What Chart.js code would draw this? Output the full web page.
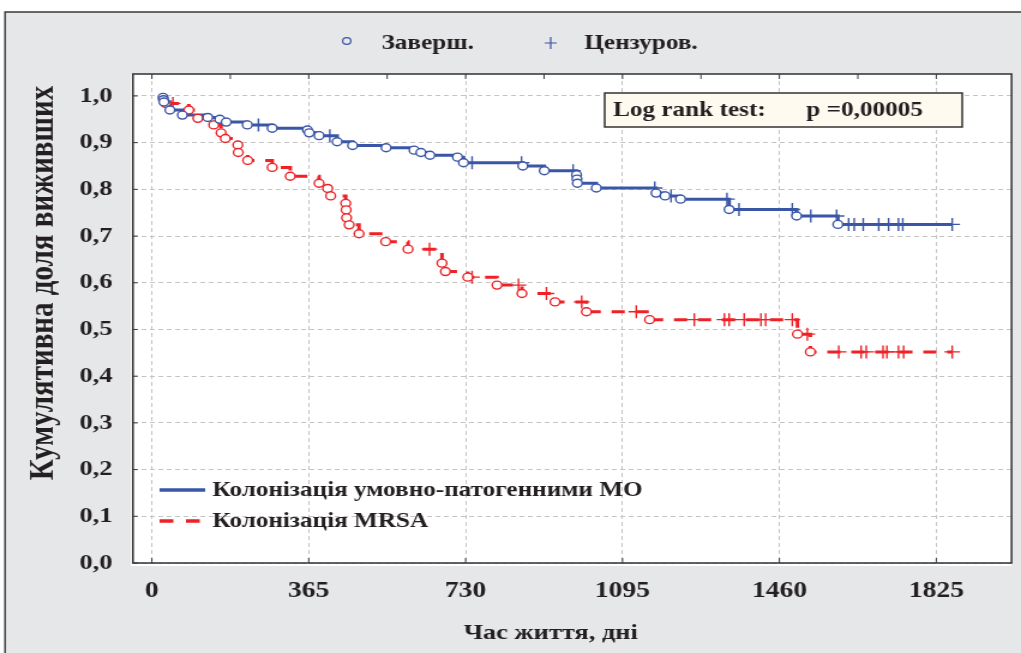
<!DOCTYPE html>
<html lang="uk">
<head>
<meta charset="UTF-8">
<title>Кумулятивна доля виживших</title>
<script src="https://cdn.jsdelivr.net/npm/chart.js@4.4.1/dist/chart.umd.min.js"></script>
<style>
  html, body { margin: 0; padding: 0; background: #fff; overflow: hidden; }
  #km { display: block; }
</style>
</head>
<body>
<!-- the original figure is stretched sideways, so the canvas is drawn narrow and widened by an inline style -->
<canvas id="km" width="851" height="653" style="width:1021px;height:653px"></canvas>
<script>
// Колонізація умовно-патогенними МО (blue)
const bluEventDays = [26, 27, 28, 42, 71, 130, 158, 173, 222, 280, 362, 366, 389, 431, 467, 545, 610, 626, 647, 711, 725, 863, 913, 988, 989, 990, 1034, 1173, 1194, 1230, 1343, 1500, 1596];
const bluEventSurv = [0.997, 0.992, 0.987, 0.970, 0.959, 0.954, 0.950, 0.944, 0.938, 0.931, 0.927, 0.921, 0.915, 0.902, 0.894, 0.889, 0.884, 0.879, 0.873, 0.869, 0.857, 0.850, 0.840, 0.831, 0.822, 0.813, 0.803, 0.792, 0.786, 0.779, 0.757, 0.743, 0.725];
const bluCensorDays = [248, 414, 745, 860, 980, 1170, 1208, 1338, 1366, 1490, 1533, 1593, 1621, 1634, 1655, 1691, 1714, 1737, 1747, 1862];

// Колонізація MRSA (red)
const redEventDays = [32, 86, 107, 144, 161, 171, 200, 201, 223, 280, 322, 389, 409, 416, 451, 452, 453, 459, 482, 544, 596, 675, 683, 735, 803, 861, 938, 1011, 1158, 1502, 1532];
const redEventSurv = [0.984, 0.970, 0.952, 0.938, 0.921, 0.909, 0.895, 0.879, 0.862, 0.847, 0.828, 0.813, 0.802, 0.786, 0.770, 0.756, 0.739, 0.724, 0.705, 0.688, 0.672, 0.642, 0.624, 0.612, 0.595, 0.577, 0.559, 0.538, 0.521, 0.490, 0.452];
const redCensorDays = [49, 646, 745, 853, 918, 1000, 1127, 1262, 1332, 1343, 1378, 1417, 1428, 1490, 1525, 1598, 1650, 1662, 1701, 1710, 1737, 1749, 1862];

const xTickVals = [0, 365, 730, 1095, 1460, 1825];
const yTickVals = [0, 0.1, 0.2, 0.3, 0.4, 0.5, 0.6, 0.7, 0.8, 0.9, 1.0];

const BLUE = '#3a56a6';
const RED = '#ee2226';
const INK = '#231f20';
const SERIF = '"Liberation Serif", "DejaVu Serif", serif';

// survival level in force at time t
function survAt(days, surv, t) {
    let s = 1;
    for (let i = 0; i < days.length; i++) {
        if (days[i] <= t) s = surv[i];
    }
    return s;
}

function eventPoints(days, surv) {
    return days.map((d, i) => ({ x: d, y: surv[i] }));
}

function censorPoints(days, evDays, evSurv) {
    return days.map(d => ({ x: d, y: survAt(evDays, evSurv, d) }));
}

function stepPoints(evDays, evSurv, cDays) {
    const pts = eventPoints(evDays, evSurv).concat(censorPoints(cDays, evDays, evSurv));
    pts.sort((a, b) => a.x - b.x || b.y - a.y);
    return pts;
}

function markerSet(data, color, style, radius, order) {
    return {
        type: 'line',
        data: data,
        showLine: false,
        pointStyle: style,
        pointRadius: radius,
        pointHoverRadius: radius,
        pointBorderWidth: 1.4,
        pointBorderColor: color,
        pointBackgroundColor: '#ffffff',
        order: order
    };
}

// background, frame and white plot area
const framePlugin = {
    id: 'frame',
    beforeDraw(chart) {
        const ctx = chart.ctx;
        const a = chart.chartArea;
        ctx.save();
        ctx.fillStyle = '#ffffff';
        ctx.fillRect(0, 0, chart.width, chart.height);
        ctx.fillStyle = '#e6e7e8';
        ctx.fillRect(4.2, 12, chart.width, chart.height);
        ctx.strokeStyle = '#3a3a3a';
        ctx.lineWidth = 1.4;
        ctx.beginPath();
        ctx.moveTo(4.2, chart.height);
        ctx.lineTo(4.2, 12);
        ctx.lineTo(chart.width, 12);
        ctx.stroke();
        ctx.fillStyle = '#ffffff';
        ctx.fillRect(a.left - 1.5, a.top, a.right - a.left + 1.5, a.bottom - a.top + 3);
        ctx.restore();
    },
    afterDraw(chart) {
        const ctx = chart.ctx;
        const a = chart.chartArea;
        const xs = chart.scales.x;
        const ys = chart.scales.y;
        ctx.save();

        // plot box and inner ticks
        ctx.strokeStyle = '#3c3c3c';
        ctx.lineWidth = 1.6;
        ctx.strokeRect(a.left, a.top, a.right - a.left, a.bottom - a.top);
        ctx.lineWidth = 1;
        ctx.beginPath();
        for (let d = 0; d <= 1825; d += 182.5) {
            const x = xs.getPixelForValue(d);
            ctx.moveTo(x, a.top);
            ctx.lineTo(x, a.top + 5);
        }
        xTickVals.forEach(v => {
            const x = xs.getPixelForValue(v);
            ctx.moveTo(x, a.bottom);
            ctx.lineTo(x, a.bottom - 5);
        });
        yTickVals.forEach(v => {
            const y = ys.getPixelForValue(v);
            ctx.moveTo(a.left, y);
            ctx.lineTo(a.left + 4, y);
        });
        ctx.stroke();

        ctx.fillStyle = INK;
        ctx.textBaseline = 'middle';
        ctx.textAlign = 'left';

        // top legend
        ctx.font = 'bold 21px ' + SERIF;
        ctx.strokeStyle = BLUE;
        ctx.lineWidth = 1.2;
        ctx.beginPath();
        ctx.arc(289, 41, 3.4, 0, Math.PI * 2);
        ctx.stroke();
        ctx.beginPath();
        ctx.moveTo(454, 43); ctx.lineTo(464, 43);
        ctx.moveTo(459, 37); ctx.lineTo(459, 49);
        ctx.stroke();
        ctx.fillText('Заверш.', 318, 44);
        ctx.fillText('Цензуров.', 487, 44);

        // log rank box
        ctx.fillStyle = '#fefaf0';
        ctx.fillRect(504, 93, 298, 34);
        ctx.strokeStyle = '#333333';
        ctx.lineWidth = 1.5;
        ctx.strokeRect(504, 93, 298, 34);
        ctx.fillStyle = INK;
        ctx.fillText('Log rank test:', 511, 111);
        ctx.fillText('p =0,00005', 672, 111);

        // series legend
        ctx.lineWidth = 3.5;
        ctx.strokeStyle = BLUE;
        ctx.beginPath();
        ctx.moveTo(133, 490); ctx.lineTo(171, 490);
        ctx.stroke();
        ctx.strokeStyle = RED;
        ctx.beginPath();
        ctx.moveTo(133, 521); ctx.lineTo(144.5, 521);
        ctx.moveTo(155, 521); ctx.lineTo(166.5, 521);
        ctx.stroke();
        ctx.fillText('Колонізація умовно-патогенними МО', 177, 491);
        ctx.fillText('Колонізація MRSA', 177, 522);

        // axis titles
        ctx.font = 'bold 22px ' + SERIF;
        ctx.textAlign = 'center';
        ctx.fillText('Час життя, дні', 459, 633);
        ctx.translate(37, 283);
        ctx.rotate(-Math.PI / 2);
        ctx.font = 'bold 29px ' + SERIF;
        ctx.fillText('Кумулятивна доля виживших', 0, 0);
        ctx.restore();
    }
};

const ctx = document.getElementById('km').getContext('2d');
const kmChart = new Chart(ctx, {
    type: 'line',
    data: {
        datasets: [
            markerSet(eventPoints(bluEventDays, bluEventSurv), BLUE, 'circle', 4, 0),
            markerSet(eventPoints(redEventDays, redEventSurv), RED, 'circle', 4, 0),
            markerSet(censorPoints(bluCensorDays, bluEventDays, bluEventSurv), BLUE, 'cross', 6.5, 1),
            markerSet(censorPoints(redCensorDays, redEventDays, redEventSurv), RED, 'cross', 6.5, 1),
            {
                type: 'line',
                data: stepPoints(bluEventDays, bluEventSurv, bluCensorDays),
                stepped: true,
                borderColor: BLUE,
                borderWidth: 3,
                pointRadius: 0,
                fill: false,
                order: 2
            },
            {
                type: 'line',
                data: stepPoints(redEventDays, redEventSurv, redCensorDays),
                stepped: true,
                borderColor: RED,
                borderWidth: 3,
                borderDash: [11, 9],
                pointRadius: 0,
                fill: false,
                order: 2
            }
        ]
    },
    options: {
        responsive: false,
        animation: false,
        devicePixelRatio: 1,
        layout: { padding: { top: 74, right: 5.2, left: 0, bottom: 0 } },
        plugins: {
            legend: { display: false },
            tooltip: { enabled: false }
        },
        scales: {
            x: {
                type: 'linear',
                min: -44,
                max: 2000,
                afterBuildTicks: s => { s.ticks = xTickVals.map(v => ({ value: v })); },
                afterFit: s => { s.height = 90; },
                grid: { color: '#c4c4c4', lineWidth: 1, drawTicks: false },
                border: { display: false, dash: [4, 3] },
                ticks: {
                    padding: 14,
                    color: INK,
                    font: { family: SERIF, size: 23, weight: 'bold' },
                    callback: v => String(v)
                }
            },
            y: {
                type: 'linear',
                min: 0,
                max: 1.047,
                afterBuildTicks: s => { s.ticks = yTickVals.map(v => ({ value: v })); },
                afterFit: s => { s.width = 110.8; },
                grid: { color: '#c4c4c4', lineWidth: 1, drawTicks: false },
                border: { display: false, dash: [4, 3] },
                ticks: {
                    padding: 17,
                    color: INK,
                    font: { family: SERIF, size: 22, weight: 'bold' },
                    callback: v => v.toFixed(1).replace('.', ',')
                }
            }
        }
    },
    plugins: [framePlugin]
});
</script>
</body>
</html>
